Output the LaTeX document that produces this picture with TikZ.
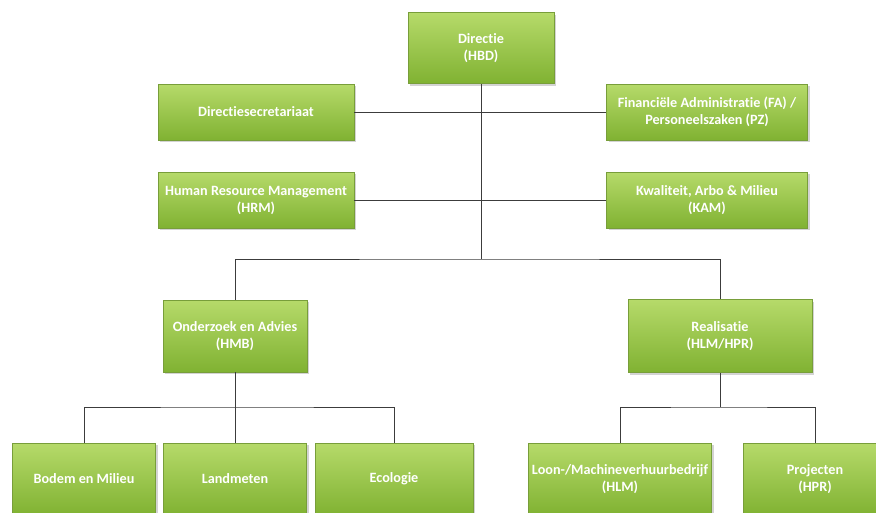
\documentclass[tikz,border=0pt]{standalone}
\usepackage{fontspec}
\setmainfont{Carlito}[Ligatures=CommonOff]
\usetikzlibrary{shadows,positioning}
\definecolor{boxtop}{RGB}{182,218,106}
\definecolor{boxbot}{RGB}{128,178,50}
\definecolor{boxline}{RGB}{120,158,58}
\definecolor{lijn}{RGB}{60,60,60}

\begin{document}
\begin{tikzpicture}[x=1pt,y=-1pt,node distance=88pt]
		\tikzstyle{afd}=[rectangle,draw=boxline,line width=0.6pt,top color=boxtop,bottom color=boxbot,
			drop shadow={shadow xshift=2pt,shadow yshift=-2pt,opacity=.35},
			text=white,align=center,inner sep=0pt,font=\fontsize{14.2}{17}\selectfont\bfseries]
		\tikzstyle{lijn}=[draw=lijn,line width=0.8pt]
		\useasboundingbox (0,0) rectangle (876,512);
		\node[afd,minimum width=146pt,minimum height=71pt] (dir) at (481,48) {Directie\\(HBD)};
		\node[afd,minimum width=196pt,minimum height=56pt] (sec) at (256,112) {Directiesecretariaat};
		\node[afd,minimum width=196pt,minimum height=56pt] (hrm) [below of=sec] {Human Resource Management\\(HRM)};
		\node[afd,minimum width=201pt,minimum height=56pt] (fa) at (707,112) {Financiële Administratie (FA) /\\Personeelszaken (PZ)};
		\node[afd,minimum width=201pt,minimum height=56pt] (kam) [below of=fa] {Kwaliteit, Arbo \& Milieu\\(KAM)};
		\node[afd,minimum width=144pt,minimum height=72pt] (hmb) at (235,336) {Onderzoek en Advies\\(HMB)};
		\node[afd,minimum width=184pt,minimum height=73pt] (real) at (720,336) {Realisatie\\(HLM/HPR)};
		\node[afd,minimum width=143pt,minimum height=72pt] (bodem) at (84,479) {Bodem en Milieu};
		\node[afd,minimum width=143pt,minimum height=72pt] (land) [below of=hmb,node distance=143pt] {Landmeten};
		\node[afd,minimum width=158pt,minimum height=72pt] (eco) at (394,479) {Ecologie};
		\node[afd,minimum width=183pt,minimum height=72pt] (hlm) at (620,479) {Loon-/Machineverhuurbedrijf\\(HLM)};
		\node[afd,minimum width=144pt,minimum height=72pt] (hpr) at (815,479) {Projecten\\(HPR)};
		\coordinate (j1) at (481,259);
		\coordinate (j2) at (235,407);
		\coordinate (j3) at (720,407);
		\draw[lijn] (sec) -- (fa);
		\draw[lijn] (hrm) -- (kam);
		\draw[lijn] (dir) -- (j1);
		\draw[lijn] (hmb) |- (j1) -| (real);
		\draw[lijn] (hmb) -- (land);
		\draw[lijn] (bodem) |- (j2) -| (eco);
		\draw[lijn] (real) -- (j3);
		\draw[lijn] (hlm) |- (j3) -| (hpr);
\end{tikzpicture}
\end{document}
